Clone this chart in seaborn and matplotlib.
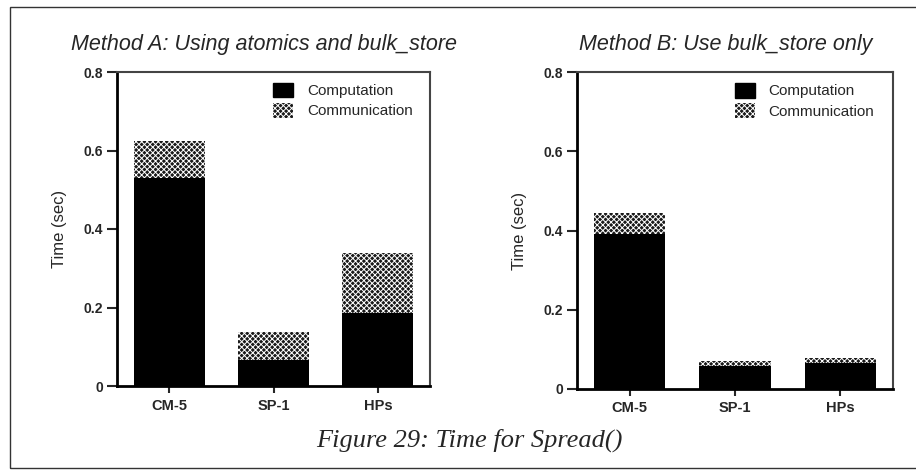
import matplotlib
matplotlib.use('Agg')
import matplotlib.pyplot as plt
import seaborn as sns
import pandas as pd
from matplotlib.patches import Patch, Rectangle
from matplotlib import font_manager

# data
machines = ['CM-5', 'SP-1', 'HPs']
a_computation = [0.53, 0.065, 0.185]
a_communication = [0.095, 0.073, 0.153]
b_computation = [0.39, 0.058, 0.066]
b_communication = [0.055, 0.012, 0.011]

sns.set_style('white')
installed = {f.name for f in font_manager.fontManager.ttflist}
narrow = 'Liberation Sans Narrow' if 'Liberation Sans Narrow' in installed else 'Liberation Sans'
plt.rcParams['font.family'] = [narrow, 'DejaVu Sans']
plt.rcParams['hatch.linewidth'] = 0.7

fig = plt.figure(figsize=(9.16, 4.70), dpi=100)

# page frame
fig.add_artist(Rectangle((10 / 916, 2 / 470), 1.0, 461 / 470, transform=fig.transFigure,
                         fill=False, edgecolor='#333333', linewidth=1.0))


def draw_panel(rect, comp, comm, title, title_x):
    ax = fig.add_axes(rect)
    df = pd.DataFrame({'Machine': machines, 'Computation': comp, 'Communication': comm})
    df['Total'] = df['Computation'] + df['Communication']

    # total bar hatched, computation drawn on top in black
    sns.barplot(data=df, x='Machine', y='Total', color='#1a1a1a', width=0.68,
                hatch='xxxxxx', edgecolor='white', linewidth=0, ax=ax, saturation=1)
    sns.barplot(data=df, x='Machine', y='Computation', color='black', width=0.68,
                linewidth=0, ax=ax, saturation=1)

    ax.set_xlim(-0.5, 2.5)
    ax.set_ylim(0, 0.8)
    ax.set_yticks([0, 0.2, 0.4, 0.6, 0.8])
    ax.set_yticklabels(['0', '0.2', '0.4', '0.6', '0.8'], fontweight='bold', fontsize=10,
                       family=['Liberation Sans', 'DejaVu Sans'])
    ax.set_xticks(range(len(machines)))
    ax.set_xticklabels(machines, fontweight='bold', fontsize=10.5,
                       family=['Liberation Sans', 'DejaVu Sans'])
    ax.set_xlabel('')
    ax.set_ylabel('Time (sec)', fontsize=12, labelpad=12)
    ax.tick_params(axis='y', direction='out', length=7, width=1.5, left=True, pad=3)
    ax.tick_params(axis='x', direction='out', length=5, width=1.5, bottom=True, pad=4)

    for side in ['left', 'bottom']:
        ax.spines[side].set_linewidth(2.0)
        ax.spines[side].set_color('black')
    for side in ['top', 'right']:
        ax.spines[side].set_linewidth(1.5)
        ax.spines[side].set_color('#444444')

    handles = [Patch(facecolor='black', edgecolor='black', label='Computation'),
               Patch(facecolor='#1a1a1a', edgecolor='white', hatch='xxxxxx', linewidth=0,
                     label='Communication')]
    ax.legend(handles=handles, loc='upper left', bbox_to_anchor=(0.48, 0.985), frameon=False,
              fontsize=11, handlelength=1.3, handleheight=1.1, handletextpad=0.9,
              labelspacing=0.3, borderaxespad=0)

    fig.text(title_x, 0.905, title, fontsize=15.5, style='italic', ha='center', va='center')
    return ax


draw_panel([117 / 916, 1 - 386 / 470, 313 / 916, 314 / 470],
           a_computation, a_communication, 'Method A: Using atomics and bulk_store', 264 / 916)
draw_panel([577 / 916, 1 - 389 / 470, 316 / 916, 317 / 470],
           b_computation, b_communication, 'Method B: Use bulk_store only', 726 / 916)

fig.text(469 / 916, 1 - 440 / 470, 'Figure 29: Time for Spread()', fontsize=19, style='italic',
         ha='center', va='center', family=['Liberation Serif', 'DejaVu Serif'])

plt.savefig('out.png', dpi=100)
